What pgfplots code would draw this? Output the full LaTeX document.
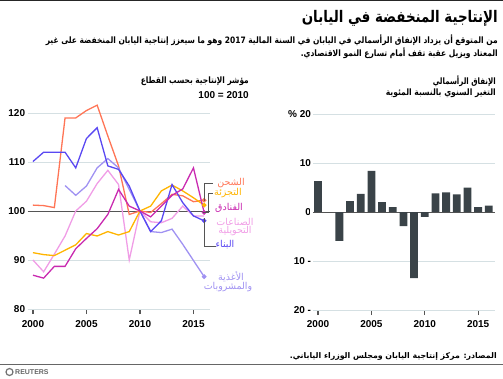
\documentclass[border=0pt]{standalone}
\usepackage{fontspec}
\usepackage{graphicx}
\usepackage{pgfplots}
\pgfplotsset{compat=1.18}
\setmainfont{Liberation Sans}
\newfontfamily\arabicfont[Script=Arabic]{DejaVu Sans}
\TeXXeTstate=1
\definecolor{ship}{HTML}{FF7556}
\definecolor{retail}{HTML}{FFB400}
\definecolor{hotel}{HTML}{C92AB0}
\definecolor{manu}{HTML}{F09DE6}
\definecolor{cons}{HTML}{5A48F2}
\definecolor{food}{HTML}{A092F2}
\definecolor{barc}{HTML}{3A4348}
\definecolor{gridc}{HTML}{D5E0E3}
\definecolor{darkl}{HTML}{555555}
\newcommand{\ar}[1]{{\arabicfont\beginR #1\endR}}
\newlength{\tw}
\newcommand{\fitw}[2]{\settowidth{\tw}{#2}\scalebox{\fpeval{(#1)/(\the\tw)}}[1]{#2}}
\begin{document}
\begin{tikzpicture}
\useasboundingbox (0pt,0pt) rectangle (503pt,378pt);
\fill[black!85] (0pt,376.5pt) rectangle (503pt,378pt);
% titles
\node[anchor=east, inner sep=0pt, font=\fontsize{16}{19}\selectfont\bfseries] at (498pt,360pt) {\fitw{196pt}{\ar{الإنتاجية المنخفضة في اليابان}}};
\node[anchor=east, inner sep=0pt, font=\fontsize{8.8}{10}\selectfont\bfseries] at (498pt,338pt) {\fitw{452pt}{\ar{من المتوقع أن يزداد الإنفاق الرأسمالي في اليابان في السنة المالية \beginL 2017\endL{} وهو ما سيعزز إنتاجية اليابان المنخفضة على غير}}};
\node[anchor=east, inner sep=0pt, font=\fontsize{8.8}{10}\selectfont\bfseries] at (498pt,325pt) {\fitw{197pt}{\ar{المعتاد ويزيل عقبة تقف أمام تسارع النمو الاقتصادي.}}};
% left chart title
\node[anchor=east, inner sep=0pt, font=\fontsize{8.8}{10}\selectfont\bfseries] at (249pt,297pt) {\fitw{108pt}{\ar{مؤشر الإنتاجية بحسب القطاع}}};
\node[anchor=east, inner sep=0pt, font=\fontsize{10}{11}\selectfont\bfseries] at (249pt,282.5pt) {100 = 2010};
% right chart title
\node[anchor=east, inner sep=0pt, font=\fontsize{8.8}{10}\selectfont\bfseries] at (496pt,297pt) {\fitw{63pt}{\ar{الإنفاق الرأسمالي}}};
\node[anchor=east, inner sep=0pt, font=\fontsize{8.8}{10}\selectfont\bfseries] at (496pt,285pt) {\fitw{110pt}{\ar{التغير السنوي بالنسبة المئوية}}};

\begin{axis}[
  at={(27.6pt,69pt)}, anchor=south west, scale only axis,
  width=181.9pt, height=205.8pt,
  xmin=1999.5, xmax=2016.5, ymin=80, ymax=122,
  axis x line*=bottom, axis y line*=left,
  x axis line style={draw=gridc, line width=0.8pt},
  y axis line style={draw=none},
  xtick={2000,2005,2010,2015}, ytick={80,90,100,110,120},
  xtick align=outside, major tick length=5pt,
  xtick style={draw=darkl, line width=1.1pt},
  ytick style={draw=none},
  ymajorgrids, grid style={draw=gridc, line width=0.8pt},
  extra y ticks={100}, extra y tick labels={},
  extra y tick style={grid style={draw=darkl, line width=1pt}, ytick style={draw=none}},
  /pgf/number format/1000 sep={}, /pgf/number format/assume math mode=true,
  tick label style={font=\fontsize{10}{12}\selectfont\bfseries},
  yticklabel style={xshift=1pt},
  xticklabel style={yshift=-3pt},
  every axis plot/.append style={line width=1.3pt},
]
\addplot[ship] coordinates {(2000,101.2)(2001,101.1)(2002,100.7)(2003,119.0)(2004,119.0)(2005,120.5)(2006,121.6)(2007,115.3)(2008,109.2)(2009,99.3)(2010,100)(2011,99.7)(2012,101.5)(2013,103.4)(2014,103.1)(2015,101.9)(2016,102.2)};
\addplot[food] coordinates {(2003,105.2)(2004,103.2)(2005,105.1)(2006,108.8)(2007,110.7)(2008,108.8)(2009,104.4)(2010,100)(2011,95.8)(2012,95.6)(2013,96.3)(2014,93.2)(2015,89.9)(2016,86.6)};
\addplot[manu] coordinates {(2000,90.0)(2001,87.6)(2002,91.2)(2003,94.9)(2004,100.0)(2005,102.0)(2006,105.6)(2007,108.3)(2008,105.4)(2009,90.0)(2010,100)(2011,97.8)(2012,97.6)(2013,98.5)(2014,101.0)(2015,99.0)(2016,99.0)};
\addplot[retail] coordinates {(2000,91.5)(2001,91.1)(2002,90.9)(2003,92.0)(2004,93.1)(2005,95.4)(2006,94.9)(2007,95.8)(2008,95.1)(2009,95.8)(2010,100)(2011,101.0)(2012,104.1)(2013,105.3)(2014,104.1)(2015,102.7)(2016,101.2)};
\addplot[cons] coordinates {(2000,110.1)(2001,112.0)(2002,112.0)(2003,112.0)(2004,108.8)(2005,114.8)(2006,117.0)(2007,109.2)(2008,108.5)(2009,105.1)(2010,100)(2011,95.8)(2012,98.0)(2013,105.4)(2014,101.7)(2015,99.0)(2016,98.0)};
\addplot[hotel] coordinates {(2000,86.9)(2001,86.3)(2002,88.7)(2003,88.7)(2004,92.3)(2005,94.4)(2006,96.4)(2007,99.3)(2008,104.4)(2009,101.0)(2010,100)(2011,98.8)(2012,101.0)(2013,103.2)(2014,104.5)(2015,108.8)(2016,99.7)};
% end markers
\addplot[ship, only marks, mark=*, mark size=1.6pt] coordinates {(2016,102.2)};
\addplot[retail, only marks, mark=*, mark size=1.6pt] coordinates {(2016,101.2)};
\addplot[hotel, only marks, mark=*, mark size=1.6pt] coordinates {(2016,99.7)};
\addplot[cons, only marks, mark=*, mark size=1.6pt] coordinates {(2016,98.0)};
\addplot[food, only marks, mark=*, mark size=1.6pt] coordinates {(2016,86.6)};
\end{axis}

% brackets and labels of left chart
\draw[darkl, line width=0.9pt] (204pt,177pt) -- (204pt,195pt) -- (213pt,195pt);
\draw[darkl, line width=0.9pt] (203pt,166pt) -- (208pt,166pt) -- (208pt,185pt) -- (213pt,185pt);
\draw[darkl, line width=0.9pt] (204pt,160pt) -- (204pt,131.3pt) -- (216pt,131.3pt);
\begin{scope}[every node/.style={inner sep=0pt, font=\fontsize{9.5}{11}\selectfont, align=center}]
\node[text=ship] at (231pt,195pt) {\ar{الشحن}};
\node[text=retail] at (228pt,185pt) {\ar{التجزئة}};
\node[text=hotel] at (229pt,170pt) {\ar{الفنادق}};
\node[text=manu] at (235pt,156.3pt) {\ar{الصناعات}};
\node[text=manu] at (235pt,147pt) {\ar{التحويلية}};
\node[text=cons] at (225pt,133pt) {\ar{البناء}};
\node[text=food] at (231pt,101.3pt) {\ar{الأغذية}};
\node[text=food] at (228pt,90.7pt) {\ar{والمشروبات}};
\end{scope}

\begin{axis}[
  at={(312.7pt,68pt)}, anchor=south west, scale only axis,
  width=182.5pt, height=200.9pt,
  xmin=1999.5, xmax=2016.6, ymin=-20, ymax=21,
  axis x line*=bottom, axis y line*=left,
  x axis line style={draw=gridc, line width=0.8pt},
  y axis line style={draw=none},
  xtick={2000,2005,2010,2015}, ytick={-20,-10,0,10,20},
  yticklabels={20 -, 10 -, 0, 10, \% 20},
  xtick align=outside, major tick length=5pt,
  xtick style={draw=darkl, line width=1.1pt},
  ytick style={draw=none},
  ymajorgrids, grid style={draw=gridc, line width=0.8pt},
  extra y ticks={0}, extra y tick labels={},
  extra y tick style={grid style={draw=darkl, line width=1pt}, ytick style={draw=none}},
  /pgf/number format/1000 sep={}, /pgf/number format/assume math mode=true,
  tick label style={font=\fontsize{10}{12}\selectfont\bfseries},
  yticklabel style={fill=white, inner xsep=1.5pt},
  xticklabel style={yshift=-2pt},
]
\addplot[ybar, bar width=7.8pt, fill=barc, draw=none] coordinates {(2000,6.3)(2001,0)(2002,-5.9)(2003,2.2)(2004,3.7)(2005,8.4)(2006,2.0)(2007,1.0)(2008,-2.9)(2009,-13.5)(2010,-1.0)(2011,3.8)(2012,4.0)(2013,3.6)(2014,5.0)(2015,1.0)(2016,1.3)};
\end{axis}

% source and footer
\node[anchor=east, inner sep=0pt, font=\fontsize{7.8}{9}\selectfont\bfseries] at (497pt,22pt) {\fitw{207pt}{\ar{المصادر: مركز إنتاجية اليابان ومجلس الوزراء الياباني.}}};
\draw[black!60, line width=1pt] (0pt,14pt) -- (503pt,14pt);
\draw[black!55, line width=1.2pt] (9.5pt,6pt) circle (3.5pt);
\node[anchor=west, inner sep=0pt, text=black!60, font=\fontsize{7}{8}\selectfont\bfseries] at (15pt,6pt) {REUTERS};
\end{tikzpicture}
\end{document}
